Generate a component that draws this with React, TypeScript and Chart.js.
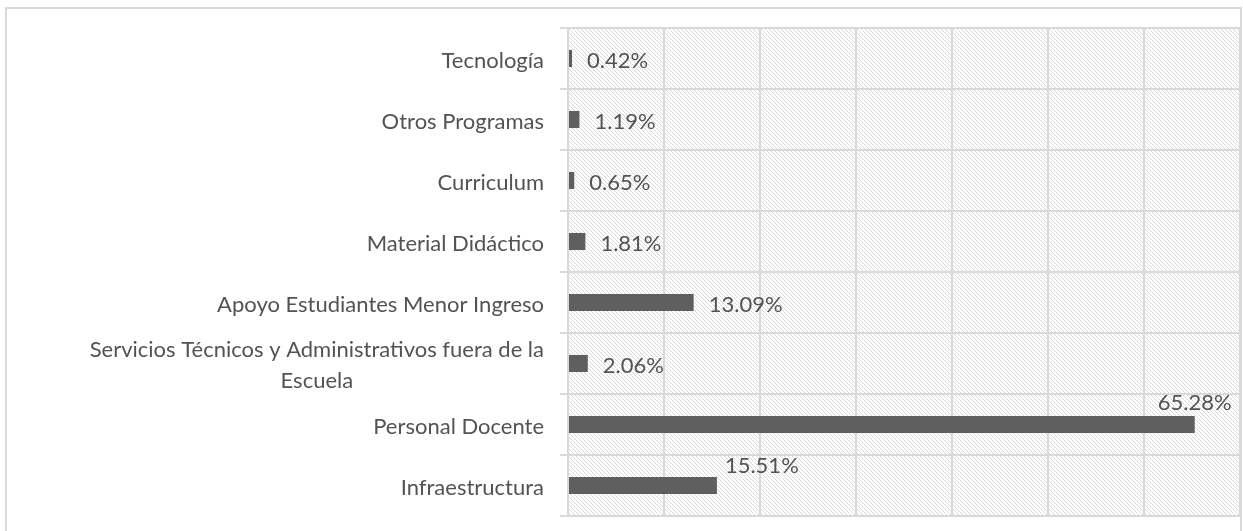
import React, { useEffect, useRef } from "react";
import { Chart, registerables } from "chart.js";

Chart.register(...registerables);

// ---- data ----
const categories: (string | string[])[] = [
  "Tecnología",
  "Otros Programas",
  "Curriculum",
  "Material Didáctico",
  "Apoyo Estudiantes Menor Ingreso",
  ["Servicios Técnicos y Administrativos fuera de la", "Escuela"],
  "Personal Docente",
  "Infraestructura",
];
const values: number[] = [0.42, 1.19, 0.65, 1.81, 13.09, 2.06, 65.28, 15.51];
const valueLabels: string[] = ["0.42%", "1.19%", "0.65%", "1.81%", "13.09%", "2.06%", "65.28%", "15.51%"];
const xMin = 0;
const xMax = 70;
const xStep = 10;

const FONT_FAMILY = "Lato, 'Noto Sans', sans-serif";
const FONT_SIZE = 22;
const TEXT_COLOR = "#535353";
const GRID_COLOR = "#d9d9d9";

const hatchPlugin = {
  id: "hatchBg",
  beforeDraw(chart: any) {
    const { ctx, chartArea: a } = chart;
    const tile = document.createElement("canvas");
    tile.width = 8;
    tile.height = 8;
    const t = tile.getContext("2d")!;
    t.fillStyle = "#ffffff";
    t.fillRect(0, 0, 8, 8);
    t.fillStyle = "#d8d8d8";
    for (let y = 0; y < 8; y++)
      for (let x = 0; x < 8; x++)
        if ((((x - y) % 4) + 4) % 4 === 0) t.fillRect(x, y, 1, 1);
    const pat = ctx.createPattern(tile, "repeat");
    ctx.save();
    ctx.fillStyle = pat;
    ctx.fillRect(a.left, a.top, a.right - a.left, a.bottom - a.top);
    ctx.restore();
  },
};

const labelPlugin = {
  id: "customLabels",
  afterDraw(chart: any) {
    const { ctx } = chart;
    const yScale = chart.scales.y;
    ctx.save();
    ctx.font = `${FONT_SIZE}px ${FONT_FAMILY}`;
    ctx.fillStyle = TEXT_COLOR;
    ctx.textBaseline = "middle";

    // category labels (right-aligned block, lines centred within block)
    const rightEdge = 544;
    const lineH = 31;
    categories.forEach((c, i) => {
      const lines = Array.isArray(c) ? c : [c];
      const w = Math.max(...lines.map((l) => ctx.measureText(l).width));
      const cy = yScale.getPixelForValue(i) + 2;
      const cx = rightEdge - w / 2;
      ctx.textAlign = "center";
      lines.forEach((l, k) => {
        const ly = cy + (k - (lines.length - 1) / 2) * lineH;
        ctx.fillText(l, cx, ly);
      });
    });

    // value labels
    const offsets: Record<number, { dx: number; dy: number; align: CanvasTextAlign }> = {
      6: { dx: 0, dy: -22, align: "center" },
      7: { dx: 8, dy: -20, align: "left" },
    };
    const meta = chart.getDatasetMeta(0);
    meta.data.forEach((el: any, i: number) => {
      const o = offsets[i] || { dx: 15, dy: 2, align: "left" as CanvasTextAlign };
      ctx.textAlign = o.align;
      ctx.fillText(valueLabels[i], el.x + o.dx, el.y + o.dy);
    });

    // outer chart border
    ctx.strokeStyle = GRID_COLOR;
    ctx.lineWidth = 2;
    ctx.strokeRect(6, 8, 1235, 600);
    ctx.restore();
  },
};

export default function App() {
  const ref = useRef<HTMLCanvasElement | null>(null);
  useEffect(() => {
    if (!ref.current) return;
    const chart = new Chart(ref.current, {
      type: "bar",
      data: {
        labels: categories as any,
        datasets: [
          {
            data: values,
            backgroundColor: "#5f5f5f",
            borderWidth: 0,
            barPercentage: 0.28,
            categoryPercentage: 1,
          },
        ],
      },
      options: {
        indexAxis: "y",
        responsive: false,
        animation: false,
        devicePixelRatio: 1,
        layout: { padding: { top: 28, right: 3, bottom: 15, left: 0 } },
        plugins: { legend: { display: false }, tooltip: { enabled: false } },
        scales: {
          x: {
            type: "linear",
            min: xMin,
            max: xMax,
            ticks: { display: false, stepSize: xStep },
            grid: { color: GRID_COLOR, lineWidth: 2, drawTicks: false },
            border: { display: false },
            afterFit(s: any) {
              s.height = 0;
            },
          },
          y: {
            type: "category",
            ticks: { display: false },
            grid: { color: GRID_COLOR, lineWidth: 2, offset: true, drawTicks: true, tickLength: 8 },
            border: { display: false },
            afterFit(s: any) {
              s.width = 568;
            },
          },
        },
      },
      plugins: [hatchPlugin, labelPlugin],
    } as any);
    return () => chart.destroy();
  }, []);
  return (
    <div style={{ position: "absolute", left: 0, top: 0, width: 1243, height: 531, overflow: "hidden", background: "#fff" }}>
      <canvas ref={ref} width={1243} height={531} style={{ width: 1243, height: 531, display: "block" }} />
    </div>
  );
}
